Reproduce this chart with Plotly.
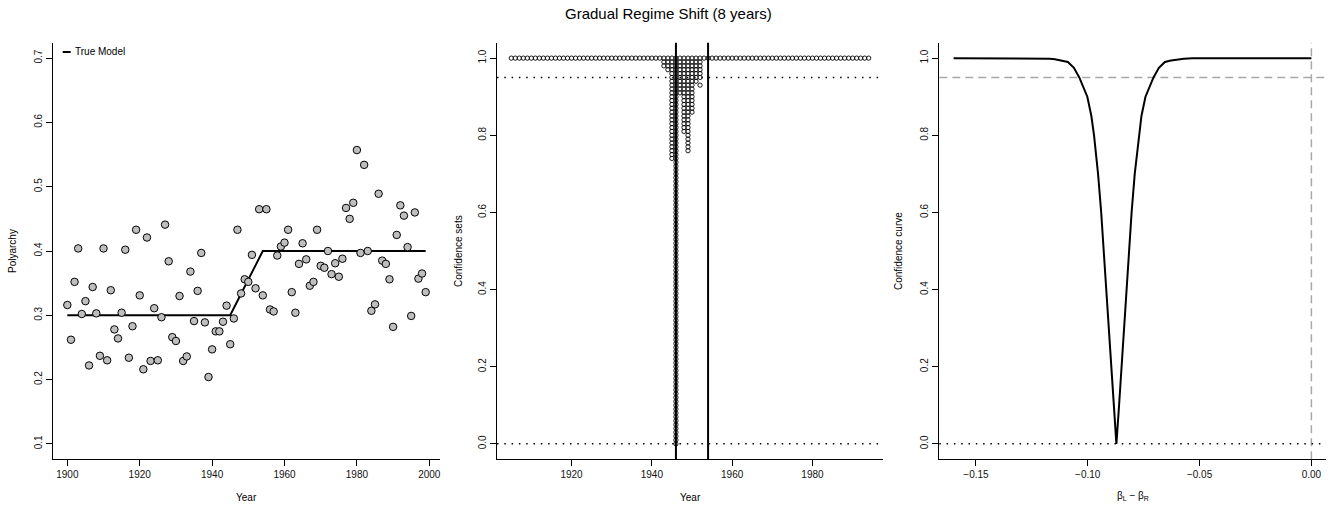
import plotly.graph_objects as go

# ---------------- data ----------------
years = list(range(1900, 2000))
polyarchy = [
    0.316, 0.262, 0.352, 0.404, 0.302, 0.322, 0.222, 0.344, 0.303, 0.237,
    0.404, 0.230, 0.339, 0.278, 0.264, 0.304, 0.402, 0.234, 0.283, 0.433,
    0.331, 0.216, 0.421, 0.229, 0.311, 0.230, 0.297, 0.441, 0.384, 0.266,
    0.260, 0.330, 0.229, 0.236, 0.368, 0.291, 0.338, 0.397, 0.289, 0.204,
    0.247, 0.275, 0.275, 0.290, 0.315, 0.255, 0.295, 0.433, 0.334, 0.356,
    0.352, 0.394, 0.342, 0.465, 0.331, 0.465, 0.309, 0.306, 0.393, 0.407,
    0.413, 0.433, 0.336, 0.304, 0.380, 0.412, 0.387, 0.346, 0.352, 0.433,
    0.377, 0.374, 0.400, 0.364, 0.381, 0.360, 0.388, 0.467, 0.450, 0.475,
    0.557, 0.397, 0.534, 0.400, 0.307, 0.317, 0.489, 0.385, 0.380, 0.356,
    0.282, 0.425, 0.471, 0.455, 0.406, 0.299, 0.460, 0.357, 0.365, 0.336,
]
true_years = [1900, 1945, 1954, 1999]
true_vals = [0.30, 0.30, 0.40, 0.40]

shift_bounds = [1946, 1954]
ref_levels = [0.95, 0.0]

cs_rows = [
    (1.00, list(range(1905, 1995))),
    (0.99, list(range(1943, 1953))),
    (0.98, list(range(1943, 1953))),
    (0.97, list(range(1944, 1953))),
    (0.96, list(range(1945, 1953))),
    (0.95, list(range(1945, 1953))),
    (0.94, list(range(1945, 1952))),
    (0.93, [1945, 1946, 1947, 1948, 1949, 1950, 1952]),
    (0.92, list(range(1945, 1951))),
    (0.91, list(range(1945, 1951))),
    (0.90, [1945, 1946, 1948, 1949, 1950]),
    (0.89, [1945, 1946, 1948, 1949, 1950]),
    (0.88, [1945, 1946, 1948, 1949, 1950]),
    (0.87, [1945, 1946, 1948, 1949, 1950]),
    (0.86, [1945, 1946, 1948, 1949, 1950]),
    (0.85, [1945, 1946, 1948, 1949]),
    (0.84, [1945, 1946, 1948, 1949]),
    (0.83, [1945, 1946, 1948, 1949]),
    (0.82, [1945, 1946, 1948, 1949]),
    (0.81, [1945, 1946, 1948, 1949]),
    (0.80, [1945, 1946, 1949]),
    (0.79, [1945, 1946, 1949]),
    (0.78, [1945, 1946, 1949]),
    (0.77, [1945, 1946, 1949]),
    (0.76, [1945, 1946, 1949]),
    (0.75, [1945, 1946]),
    (0.74, [1945, 1946]),
]
single_year = 1946
single_levels = [k / 100 for k in range(0, 74)]

cc_x = [-0.160, -0.130, -0.1240, -0.1212, -0.1170, -0.1147, -0.1115, -0.1089,
        -0.1062, -0.1038, -0.1002,
        -0.0984, -0.0972, -0.0954, -0.0940, -0.0929, -0.0917, -0.0906, -0.0895,
        -0.0884, -0.0872,
        -0.0860, -0.0849, -0.0838, -0.0827, -0.0815, -0.0804, -0.0790, -0.0772,
        -0.0760, -0.0742, -0.0706, -0.0682, -0.0655, -0.0628, -0.0597, -0.0570,
        -0.0532, -0.048, 0.000]
cc_y = [1.000, 1.000, 0.9999, 0.9995, 0.9985, 0.997, 0.994, 0.990,
        0.975, 0.950, 0.900,
        0.850, 0.800, 0.700, 0.600, 0.500, 0.400, 0.300, 0.200,
        0.100, 0.000,
        0.100, 0.200, 0.300, 0.400, 0.500, 0.600, 0.700, 0.800,
        0.850, 0.900, 0.950, 0.975, 0.990, 0.994, 0.997, 0.9985,
        0.9995, 0.9999, 1.000]

# ---------------- figure ----------------
W, H = 1336, 506
FONT = "Liberation Sans, Arial, Helvetica, sans-serif"

fig = go.Figure()

# left panel
fig.add_trace(go.Scatter(x=true_years, y=true_vals, mode="lines",
                         line=dict(color="black", width=2),
                         xaxis="x", yaxis="y", hoverinfo="skip"))
fig.add_trace(go.Scatter(x=years, y=polyarchy, mode="markers",
                         marker=dict(size=7.5, color="#BEBEBE",
                                     line=dict(color="black", width=1)),
                         xaxis="x", yaxis="y"))

# middle panel
cs_x, cs_y = [], []
for lev, ys in cs_rows:
    for yr in ys:
        cs_x.append(yr)
        cs_y.append(lev)
for lev in single_levels:
    cs_x.append(single_year)
    cs_y.append(lev)
fig.add_trace(go.Scatter(x=cs_x, y=cs_y, mode="markers",
                         marker=dict(symbol="circle-open", size=4.3, color="black",
                                     line=dict(color="black", width=0.9)),
                         xaxis="x2", yaxis="y2"))

# right panel
fig.add_trace(go.Scatter(x=cc_x, y=cc_y, mode="lines",
                         line=dict(color="black", width=2),
                         xaxis="x3", yaxis="y3"))

dx = [[53 / W, 440 / W], [497 / W, 883 / W], [939.3 / W, 1325.7 / W]]
dy = [1 - 459.3 / H, 1 - 42.7 / H]

axis_common = dict(showline=True, linecolor="black", linewidth=1,
                   ticks="outside", ticklen=6, tickwidth=1, tickcolor="black",
                   showgrid=False, zeroline=False,
                   tickfont=dict(family=FONT, size=10, color="#111111"))

fig.update_layout(
    xaxis=dict(domain=dx[0], range=[1896.04, 2002.96], anchor="y",
               tickvals=[1900, 1920, 1940, 1960, 1980, 2000], **axis_common),
    yaxis=dict(domain=dy, range=[0.076, 0.724], anchor="x",
               tickvals=[0.1, 0.2, 0.3, 0.4, 0.5, 0.6, 0.7], tickformat=".1f",
               tickangle=-90, **axis_common),
    xaxis2=dict(domain=dx[1], range=[1901.44, 1997.56], anchor="y2",
                tickvals=[1920, 1940, 1960, 1980], **axis_common),
    yaxis2=dict(domain=dy, range=[-0.04, 1.04], anchor="x2",
                tickvals=[0, 0.2, 0.4, 0.6, 0.8, 1.0], tickformat=".1f",
                tickangle=-90, **axis_common),
    xaxis3=dict(domain=dx[2], range=[-0.1664, 0.0064], anchor="y3",
                tickvals=[-0.15, -0.10, -0.05, 0.0], tickformat=".2f", **axis_common),
    yaxis3=dict(domain=dy, range=[-0.04, 1.04], anchor="x3",
                tickvals=[0, 0.2, 0.4, 0.6, 0.8, 1.0], tickformat=".1f",
                tickangle=-90, **axis_common),
)

shapes = []
# middle: dotted reference levels and vertical shift bounds
for lev in ref_levels:
    shapes.append(dict(type="line", xref="x2 domain", yref="y2", x0=0, x1=1, y0=lev, y1=lev,
                       line=dict(color="black", width=1.5, dash="1.5px,5.8px"), layer="below"))
for b in shift_bounds:
    shapes.append(dict(type="line", xref="x2", yref="y2 domain", x0=b, x1=b, y0=0, y1=1,
                       line=dict(color="black", width=2)))
# right: grey dashed 0.95 and x=0, dotted 0
shapes.append(dict(type="line", xref="x3 domain", yref="y3", x0=0, x1=1, y0=ref_levels[0], y1=ref_levels[0],
                   line=dict(color="#A8A8A8", width=1.5, dash="8px,5px"), layer="below"))
shapes.append(dict(type="line", xref="x3", yref="y3 domain", x0=0, x1=0, y0=0, y1=1,
                   line=dict(color="#A8A8A8", width=1.5, dash="8px,5px"), layer="below"))
shapes.append(dict(type="line", xref="x3 domain", yref="y3", x0=0, x1=1, y0=ref_levels[1], y1=ref_levels[1],
                   line=dict(color="black", width=1.5, dash="1.5px,5.8px"), layer="below"))
# legend sample line (left panel)
shapes.append(dict(type="line", xref="paper", yref="paper",
                   x0=62.7 / W, x1=70.7 / W, y0=1 - 52 / H, y1=1 - 52 / H,
                   line=dict(color="black", width=2)))

annotations = [
    dict(text="Gradual Regime Shift (8 years)", x=0.5, y=1 - 14 / H, xref="paper", yref="paper",
         xanchor="center", yanchor="middle", showarrow=False,
         font=dict(family=FONT, size=15, color="black")),
    dict(text="True Model", x=73 / W, y=1 - 52 / H, xref="paper", yref="paper",
         xanchor="left", yanchor="middle", showarrow=False,
         font=dict(family=FONT, size=10, color="black")),
    dict(text="Year", x=246.5 / W, y=1 - 497 / H, xref="paper", yref="paper",
         xanchor="center", yanchor="middle", showarrow=False,
         font=dict(family=FONT, size=10, color="black")),
    dict(text="Year", x=690 / W, y=1 - 497 / H, xref="paper", yref="paper",
         xanchor="center", yanchor="middle", showarrow=False,
         font=dict(family=FONT, size=10, color="black")),
    dict(text="β<sub>L</sub> − β<sub>R</sub>", x=1132.5 / W, y=1 - 496 / H, xref="paper", yref="paper",
         xanchor="center", yanchor="middle", showarrow=False,
         font=dict(family=FONT, size=10, color="black")),
    dict(text="Polyarchy", x=12 / W, y=1 - 251 / H, xref="paper", yref="paper",
         xanchor="center", yanchor="middle", showarrow=False, textangle=-90,
         font=dict(family=FONT, size=10, color="black")),
    dict(text="Confidence sets", x=458 / W, y=1 - 251 / H, xref="paper", yref="paper",
         xanchor="center", yanchor="middle", showarrow=False, textangle=-90,
         font=dict(family=FONT, size=10, color="black")),
    dict(text="Confidence curve", x=898 / W, y=1 - 251 / H, xref="paper", yref="paper",
         xanchor="center", yanchor="middle", showarrow=False, textangle=-90,
         font=dict(family=FONT, size=10, color="black")),
]

fig.update_layout(
    width=W, height=H, margin=dict(l=0, r=0, t=0, b=0),
    paper_bgcolor="white", plot_bgcolor="white",
    showlegend=False, shapes=shapes, annotations=annotations,
    font=dict(family=FONT, size=10, color="black"),
)

fig.write_html("out.html", config={"displayModeBar": False},
               post_script="document.body.style.margin='0';document.body.style.padding='0';document.body.style.overflow='hidden';")
